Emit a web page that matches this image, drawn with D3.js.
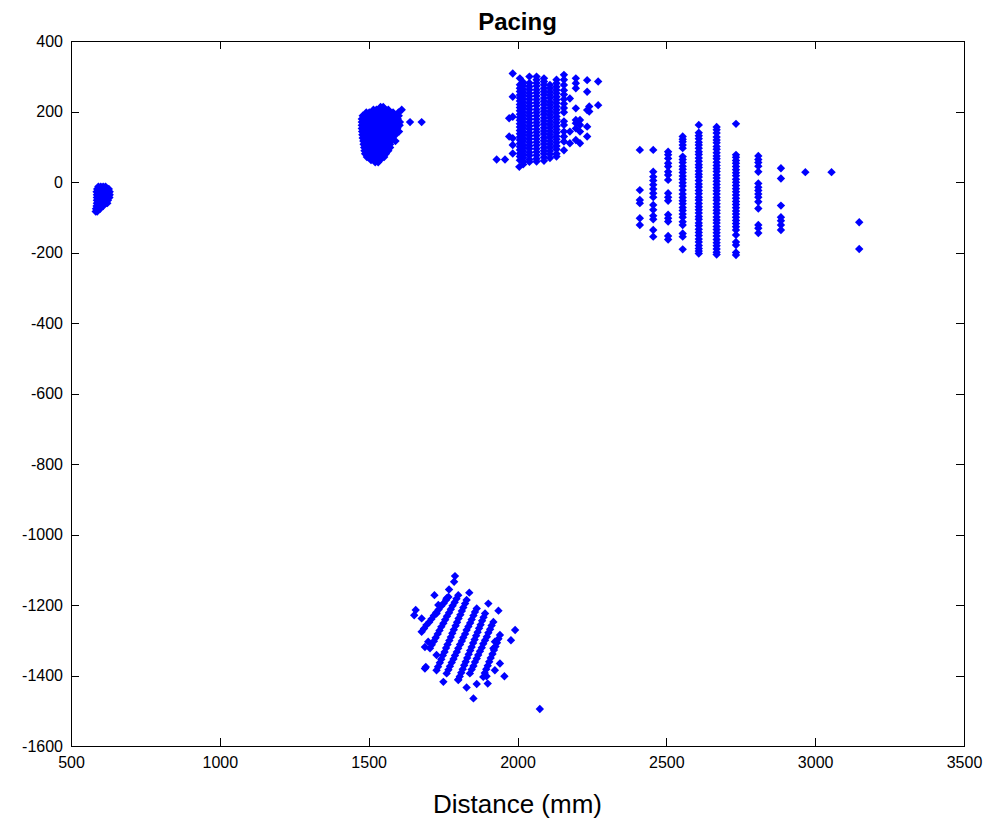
<!DOCTYPE html>
<html>
<head>
<meta charset="utf-8">
<script src="https://cdn.jsdelivr.net/npm/d3@7"></script>
<style>
  html, body { margin: 0; padding: 0; background: #ffffff; }
  svg { display: block; }
  text { font-family: "Liberation Sans", Arial, sans-serif; fill: #000; }
</style>
</head>
<body>
<svg id="chart" width="986" height="820"></svg>
<script>
// ---------------- DATA ----------------
const chartTitle = "Pacing";
const xLabel = "Distance (mm)";
const xTicks = [500, 1000, 1500, 2000, 2500, 3000, 3500];
const yTicks = [400, 200, 0, -200, -400, -600, -800, -1000, -1200, -1400, -1600];
const xDomain = [500, 3500];
const yDomain = [-1600, 400];

// cluster near 600 mm: rows [y, [x...]]
const rowsA = [
  [-13, [592, 600, 608, 616]],
  [-20, [588, 596, 604, 612, 620, 627]],
  [-28, [586, 593, 601, 609, 617, 624, 630]],
  [-36, [587, 594, 602, 610, 618, 625, 630]],
  [-44, [587, 594, 602, 610, 618, 625, 629]],
  [-52, [587, 594, 602, 610, 618, 624]],
  [-60, [587, 594, 602, 610, 617, 622]],
  [-68, [586, 593, 600, 608]],
  [-76, [584, 591, 598]],
  [-84, [583, 588]]
];

// cluster near 1550 mm: rows [y, [x...]]
const rowsB = [
  [213, [1540, 1549]],
  [205, [1516, 1526, 1536, 1546, 1556, 1566, 1611]],
  [197, [1492, 1502, 1512, 1522, 1532, 1542, 1552, 1562, 1572, 1582, 1600]],
  [188, [1480, 1490, 1500, 1510, 1520, 1530, 1540, 1550, 1560, 1580, 1591, 1601]],
  [179, [1477, 1487, 1497, 1507, 1517, 1527, 1537, 1547, 1557, 1567, 1577, 1587, 1598]],
  [170, [1477, 1487, 1497, 1507, 1517, 1527, 1537, 1547, 1557, 1567, 1577, 1587, 1597, 1605, 1639, 1678]],
  [161, [1477, 1487, 1497, 1507, 1517, 1527, 1537, 1547, 1557, 1567, 1577, 1587, 1597, 1604]],
  [152, [1477, 1487, 1497, 1507, 1517, 1527, 1537, 1547, 1557, 1567, 1577, 1587, 1596]],
  [143, [1478, 1488, 1498, 1508, 1518, 1528, 1538, 1548, 1558, 1568, 1578, 1590, 1602]],
  [134, [1479, 1489, 1499, 1509, 1519, 1529, 1539, 1549, 1559, 1569, 1579, 1590]],
  [125, [1480, 1490, 1500, 1510, 1520, 1530, 1540, 1550, 1560, 1570, 1580]],
  [116, [1482, 1492, 1502, 1512, 1522, 1532, 1542, 1552, 1562, 1574, 1590]],
  [107, [1483, 1493, 1503, 1513, 1523, 1533, 1543, 1553, 1563, 1572]],
  [98, [1485, 1495, 1505, 1515, 1525, 1535, 1545, 1555, 1565, 1572]],
  [89, [1486, 1496, 1506, 1516, 1526, 1536, 1546, 1556, 1566]],
  [80, [1488, 1498, 1508, 1518, 1528, 1538, 1548, 1558]],
  [71, [1494, 1504, 1514, 1524, 1534, 1544, 1552]],
  [62, [1508, 1518, 1528, 1538]],
  [56, [1522, 1532]]
];

// cluster near 2100 mm: columns [x, [y...]]
const colsC = [
  [1930, [64]],
  [1958, [64]],
  [1972, [181, 129]],
  [1984, [308, 242, 185, 124, 105, 81]],
  [2006, [43]],
  [2008, [294, 276, 266, 257, 247, 238, 230, 220, 211, 202, 192, 183, 175, 165, 156, 146, 137, 128, 119, 109, 100, 91, 81, 72, 62]],
  [2019, [283, 274, 264, 255, 246, 236, 227, 218, 209, 199, 190, 181, 171, 162, 153, 143, 134, 125, 116, 106, 97, 88, 78, 69, 58, 50]],
  [2040, [299, 281, 271, 262, 252, 243, 234, 224, 215, 206, 196, 187, 178, 168, 159, 150, 140, 131, 122, 112, 103, 94, 84, 75, 64, 57]],
  [2064, [299, 290, 281, 272, 262, 253, 244, 234, 225, 216, 206, 197, 188, 178, 169, 160, 150, 141, 132, 122, 113, 104, 94, 85, 76, 66, 58]],
  [2089, [294, 285, 276, 266, 257, 248, 238, 229, 220, 210, 201, 192, 182, 173, 164, 154, 145, 136, 126, 117, 108, 98, 89, 80, 70, 60]],
  [2109, [275, 266, 256, 247, 238, 228, 219, 210, 200, 191, 182, 172, 163, 154, 144, 135, 126, 116, 107, 98, 88, 79, 68]],
  [2131, [290, 280, 270, 261, 252, 242, 233, 224, 214, 205, 196, 186, 177, 168, 158, 149, 140, 130, 121, 112, 102, 93, 80, 72]],
  [2156, [304, 290, 275, 260, 248, 235, 222, 210, 198, 172, 162, 143, 129, 115, 90]],
  [2176, [237, 143, 110]],
  [2196, [294, 280, 266, 209, 176, 167, 152, 119]],
  [2210, [176, 162, 143, 110]],
  [2234, [289, 256, 204, 157, 129]],
  [2241, [214, 200]],
  [2271, [285, 218]]
];

// cluster near 2650 mm: columns [x, [y...]]
const colsD = [
  [2411, [91, -23, -51, -60, -103, -122]],
  [2456, [91, 29, 15, 4, -8, -20, -32, -43, -65, -79, -96, -106, -136, -155]],
  [2506, [86, 77, 67, 53, 44, 29, 20, 6, -32, -43, -53, -93, -103, -112, -153, -163]],
  [2555, [129, 121, 114, 105, 96, 72, 64, 55, 45, 36, 27, 17, 8, -2, -11, -23, -34, -44, -53, -62, -72, -81, -91, -100, -113, -122, -146, -155, -191]],
  [2609, [162, 140, 131, 123, 113, 105, 96, 86, 78, 68, 59, 49, 41, 31, 22, 14, 4, -6, -14, -24, -33, -43, -51, -61, -70, -79, -88, -98, -106, -116, -124, -134, -143, -152, -162, -170, -180, -189, -196, -203]],
  [2669, [156, 148, 139, 128, 119, 111, 101, 93, 83, 74, 66, 56, 47, 38, 30, 20, 11, 2, -7, -16, -25, -34, -44, -52, -62, -71, -80, -89, -99, -108, -116, -126, -135, -144, -153, -163, -172, -181, -190, -199, -206]],
  [2734, [165, 77, 70, 61, 53, 44, 35, 26, 18, 8, -1, -10, -19, -28, -37, -46, -55, -64, -73, -82, -91, -100, -109, -118, -127, -136, -150, -170, -179, -200, -207]],
  [2809, [74, 64, 55, 45, 29, -4, -15, -24, -34, -43, -56, -75, -122, -131, -145]],
  [2885, [39, 10, -67, -100, -110, -122, -136]],
  [2967, [28]],
  [3055, [28]],
  [3148, [-114, -190]]
];

// cluster near 1800 mm, -1300: diagonal stripes of [x, y]
const stripesE = [
  [[1768,-1177],[1760,-1186],[1752,-1195],[1744,-1203],[1735,-1213],[1727,-1221],[1719,-1230],[1711,-1240],[1703,-1249],[1694,-1257],[1686,-1267],[1678,-1276]],
  [[1801,-1172],[1795,-1182],[1789,-1192],[1782,-1202],[1776,-1212],[1770,-1222],[1763,-1232],[1757,-1242],[1751,-1252],[1744,-1262],[1738,-1272],[1732,-1282],[1725,-1293],[1719,-1303],[1712,-1313],[1706,-1323]],
  [[1829,-1186],[1824,-1196],[1818,-1207],[1813,-1217],[1808,-1228],[1802,-1238],[1797,-1249],[1792,-1259],[1786,-1270],[1781,-1280],[1776,-1291],[1771,-1301],[1765,-1312],[1760,-1322],[1755,-1333],[1749,-1343],[1744,-1354],[1739,-1364],[1733,-1375],[1728,-1385]],
  [[1863,-1210],[1857,-1220],[1852,-1230],[1846,-1241],[1841,-1251],[1835,-1261],[1829,-1271],[1824,-1282],[1818,-1292],[1813,-1302],[1807,-1312],[1801,-1323],[1796,-1333],[1790,-1343],[1785,-1353],[1779,-1363],[1773,-1374],[1768,-1384],[1762,-1394]],
  [[1891,-1224],[1886,-1235],[1881,-1245],[1876,-1256],[1871,-1266],[1866,-1277],[1861,-1287],[1856,-1298],[1851,-1308],[1846,-1319],[1841,-1329],[1836,-1340],[1831,-1350],[1826,-1361],[1821,-1371],[1816,-1382],[1811,-1392],[1806,-1403],[1801,-1413]],
  [[1919,-1248],[1913,-1258],[1908,-1269],[1902,-1279],[1897,-1290],[1891,-1300],[1885,-1310],[1880,-1321],[1874,-1331],[1868,-1342],[1863,-1352],[1857,-1362],[1852,-1373],[1846,-1383],[1840,-1394]],
  [[1941,-1285],[1936,-1296],[1931,-1307],[1926,-1318],[1921,-1328],[1916,-1339],[1910,-1350],[1905,-1361],[1900,-1372],[1895,-1382],[1890,-1393],[1885,-1404]]
];
const extraE = [
  [1790,-1118],[1787,-1134],[1770,-1156],[1721,-1172],[1762,-1181],[1838,-1165],[1902,-1196],[1936,-1216],
  [1734,-1200],[1728,-1224],[1658,-1214],[1653,-1229],[1678,-1238],[1992,-1271],[1978,-1300],[1956,-1402],
  [1896,-1402],[1900,-1423],[1863,-1424],[1852,-1465],[1829,-1434],[1801,-1411],[1751,-1418],[1689,-1380],
  [1700,-1304],[1689,-1319],[1728,-1342],[1924,-1385],[1941,-1366],[1919,-1323],[1924,-1304],[1692,-1376],
  [2075,-1495]
];

// ---------------- CHART ----------------
const W = 986, H = 820;
const m = { left: 71, right: 22, top: 41, bottom: 74 };
const pw = W - m.left - m.right, ph = H - m.top - m.bottom;

const svg = d3.select("#chart");
const x = d3.scaleLinear().domain(xDomain).range([0, pw]);
const y = d3.scaleLinear().domain(yDomain).range([ph, 0]);

const points = [];
rowsA.forEach(([yy, xs]) => xs.forEach(xx => points.push([xx, yy])));
rowsB.forEach(([yy, xs]) => xs.forEach(xx => points.push([xx, yy])));
colsC.forEach(([xx, ys]) => ys.forEach(yy => points.push([xx, yy])));
colsD.forEach(([xx, ys]) => ys.forEach(yy => points.push([xx, yy])));
stripesE.forEach(s => s.forEach(p => points.push(p)));
extraE.forEach(p => points.push(p));

const g = svg.append("g").attr("transform", `translate(${m.left},${m.top})`);

// markers
const r = 4.2;
const diamond = `M0,${-r}L${r},0L0,${r}L${-r},0Z`;
g.append("g").selectAll("path").data(points).join("path")
  .attr("d", diamond)
  .attr("transform", d => `translate(${x(d[0])},${y(d[1])})`)
  .attr("fill", "#0000ff")
  .attr("stroke", "none");

// axes (ticks inward, box)
const tickLen = 8;
const fmt = d => String(d);
const axB = g.append("g").attr("transform", `translate(0,${ph})`)
  .call(d3.axisBottom(x).tickValues(xTicks).tickFormat(fmt).tickSizeInner(-tickLen).tickSizeOuter(0).tickPadding(11));
const axL = g.append("g")
  .call(d3.axisLeft(y).tickValues(yTicks).tickFormat(fmt).tickSizeInner(-tickLen).tickSizeOuter(0).tickPadding(8));
const axT = g.append("g")
  .call(d3.axisTop(x).tickValues(xTicks).tickFormat("").tickSizeInner(-tickLen).tickSizeOuter(0));
const axR = g.append("g").attr("transform", `translate(${pw},0)`)
  .call(d3.axisRight(y).tickValues(yTicks).tickFormat("").tickSizeInner(-tickLen).tickSizeOuter(0));

[axB, axL, axT, axR].forEach(a => {
  a.select(".domain").remove();
  a.selectAll("line").attr("stroke", "#000").attr("shape-rendering", "crispEdges");
  a.selectAll("text").attr("font-size", 16).attr("font-family", "Liberation Sans, Arial, sans-serif").attr("fill", "#000");
});

g.append("rect").attr("x", 0).attr("y", 0).attr("width", pw).attr("height", ph)
  .attr("fill", "none").attr("stroke", "#000").attr("stroke-width", 1).attr("shape-rendering", "crispEdges");

// title and label
svg.append("text").attr("x", m.left + pw / 2).attr("y", 30).attr("text-anchor", "middle")
  .attr("font-size", 24).attr("font-weight", "bold").text(chartTitle);
svg.append("text").attr("x", m.left + pw / 2).attr("y", 813).attr("text-anchor", "middle")
  .attr("font-size", 26).text(xLabel);
</script>
</body>
</html>
